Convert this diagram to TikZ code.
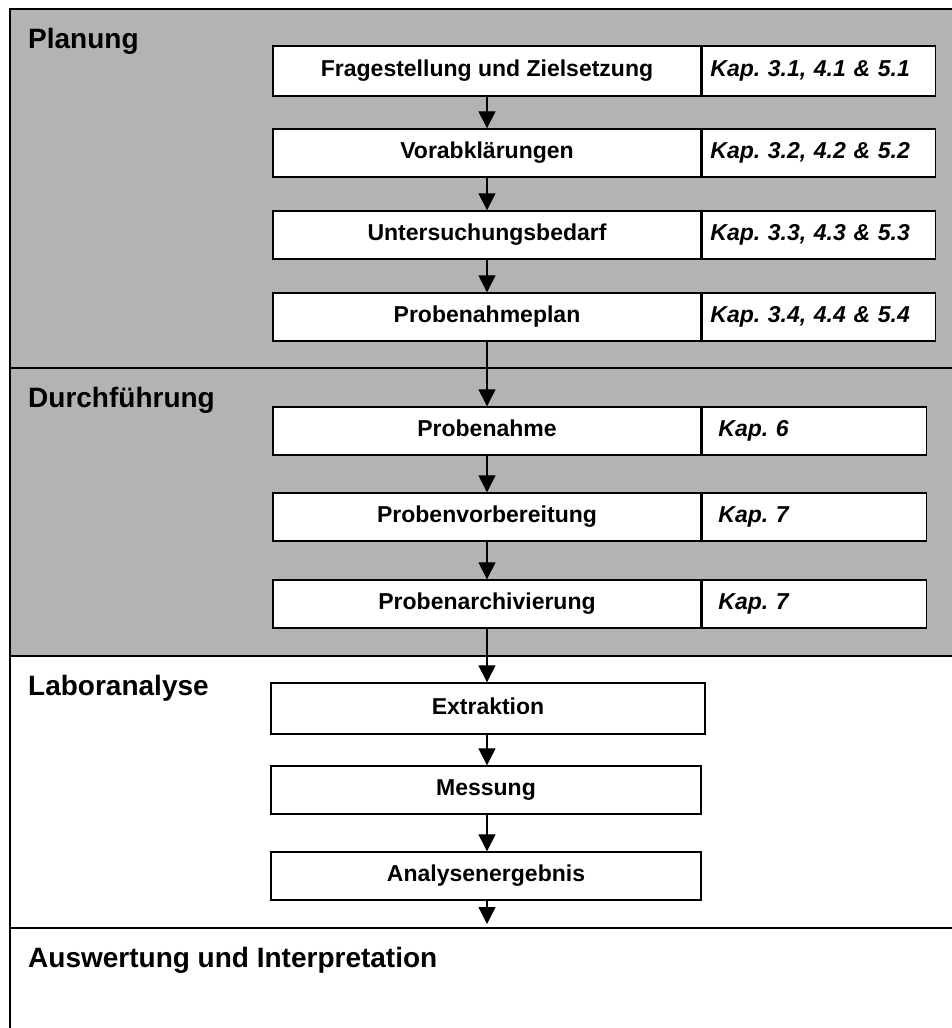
\documentclass[tikz,border=0pt]{standalone}
\usepackage{fontspec}
\setmainfont{Liberation Sans}
\usetikzlibrary{arrows.meta}
\frenchspacing
\definecolor{panelgrey}{RGB}{179,179,179}
\tikzset{
  stepbox/.style={draw=black, fill=white, line width=1.4pt, inner sep=0pt,
    text height=16.5pt, text depth=4.8pt,
    font=\bfseries\fontsize{23}{23}\selectfont},
  kapbox/.style={draw=black, fill=white, line width=1.4pt, inner ysep=0pt,
    text height=16.5pt, text depth=4.8pt, align=left,
    font=\bfseries\itshape\fontsize{23}{23}\selectfont, anchor=west},
  heading/.style={anchor=base west, inner sep=0pt,
    font=\bfseries\fontsize{28}{28}\selectfont},
  flow/.style={line width=1.3pt, -{Triangle[width=17pt,length=17pt]}},
  frame/.style={line width=1.3pt, draw=black}
}
\begin{document}
\begin{tikzpicture}[x=1pt, y=-1pt]
\useasboundingbox (0,0) rectangle (952,1028);
\begin{scope}
\clip (0,0) rectangle (952,1028);
\fill[panelgrey] (10,9) rectangle (970,656);
\draw[frame] (970,9) -- (10,9) -- (10,1050);
\draw[frame] (10,368) -- (970,368);
\draw[line width=2.4pt] (10,656) -- (970,656);
\draw[frame] (10,928) -- (970,928);
\end{scope}

% headings
\node[heading] (hplan) at (28,48) {Planung};
\node[heading] (hdurch) at (28,407) {Durchführung};
\node[heading] (hlabor) at (28,695) {Laboranalyse};
\node[heading] (hausw) at (28,967) {Auswertung und Interpretation};

% Planung
\node[stepbox, minimum width=428pt, minimum height=50pt] (s1) at (487,71) {Fragestellung und Zielsetzung};
\node[kapbox, minimum height=50pt, text width=217pt, inner xsep=8pt] (k1) at (s1.east) {Kap. 3.1, 4.1 \& 5.1};
\node[stepbox, minimum width=428pt, minimum height=48pt] (s2) at (487,153) {Vorabklärungen};
\node[kapbox, minimum height=48pt, text width=217pt, inner xsep=8pt] (k2) at (s2.east) {Kap. 3.2, 4.2 \& 5.2};
\node[stepbox, minimum width=428pt, minimum height=48pt] (s3) at (487,235) {Untersuchungsbedarf};
\node[kapbox, minimum height=48pt, text width=217pt, inner xsep=8pt] (k3) at (s3.east) {Kap. 3.3, 4.3 \& 5.3};
\node[stepbox, minimum width=428pt, minimum height=48pt] (s4) at (487,317) {Probenahmeplan};
\node[kapbox, minimum height=48pt, text width=217pt, inner xsep=8pt] (k4) at (s4.east) {Kap. 3.4, 4.4 \& 5.4};

% Durchfuehrung
\node[stepbox, minimum width=428pt, minimum height=48pt] (s5) at (487,431) {Probenahme};
\node[kapbox, minimum height=48pt, text width=192pt, inner xsep=16pt] (k5) at (s5.east) {Kap. 6};
\node[stepbox, minimum width=428pt, minimum height=48pt] (s6) at (487,517) {Probenvorbereitung};
\node[kapbox, minimum height=48pt, text width=192pt, inner xsep=16pt] (k6) at (s6.east) {Kap. 7};
\node[stepbox, minimum width=428pt, minimum height=48pt] (s7) at (487,604) {Probenarchivierung};
\node[kapbox, minimum height=48pt, text width=192pt, inner xsep=16pt] (k7) at (s7.east) {Kap. 7};

% Laboranalyse
\node[stepbox, minimum width=434pt, minimum height=51pt] (s8) at (488,708.5) {Extraktion};
\node[stepbox, minimum width=430pt, minimum height=48pt] (s9) at (486,790) {Messung};
\node[stepbox, minimum width=430pt, minimum height=48pt] (s10) at (486,876) {Analysenergebnis};
\coordinate (end) at (487,924);

% arrows
\draw[flow] (s1.south) -- (s1.south |- s2.north);
\draw[flow] (s2.south) -- (s2.south |- s3.north);
\draw[flow] (s3.south) -- (s3.south |- s4.north);
\draw[flow] (s4.south) -- (s4.south |- s5.north);
\draw[flow] (s5.south) -- (s5.south |- s6.north);
\draw[flow] (s6.south) -- (s6.south |- s7.north);
\draw[flow] (s7.south) -- (s7.south |- s8.north);
\draw[flow] (s7.south |- s8.south) -- (s7.south |- s9.north);
\draw[flow] (s7.south |- s9.south) -- (s7.south |- s10.north);
\draw[flow] (s7.south |- s10.south) -- (end);
\end{tikzpicture}
\end{document}
